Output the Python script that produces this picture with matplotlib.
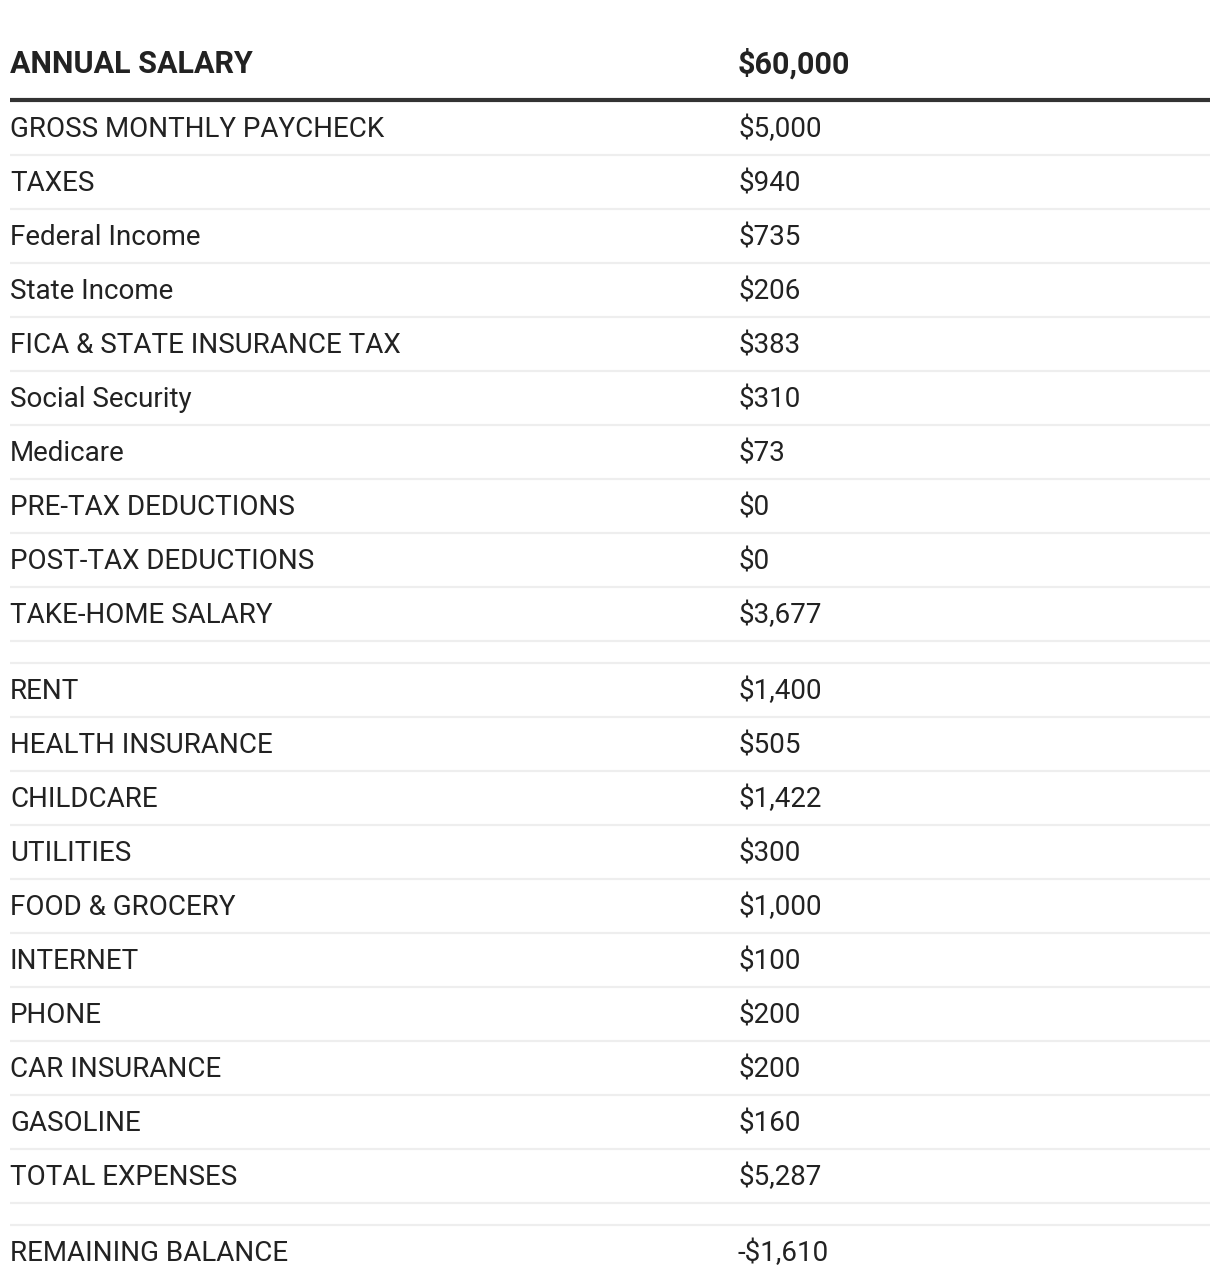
import matplotlib
matplotlib.use("Agg")
import matplotlib.pyplot as plt

header_label = "ANNUAL SALARY"
header_value = 60000

labels = [
    "GROSS MONTHLY PAYCHECK", "TAXES", "Federal Income", "State Income",
    "FICA & STATE INSURANCE TAX", "Social Security", "Medicare",
    "PRE-TAX DEDUCTIONS", "POST-TAX DEDUCTIONS", "TAKE-HOME SALARY",
    "RENT", "HEALTH INSURANCE", "CHILDCARE", "UTILITIES", "FOOD & GROCERY",
    "INTERNET", "PHONE", "CAR INSURANCE", "GASOLINE", "TOTAL EXPENSES",
    "REMAINING BALANCE",
]
values = [5000, 940, 735, 206, 383, 310, 73, 0, 0, 3677,
          1400, 505, 1422, 300, 1000, 100, 200, 200, 160, 5287,
          -1610]
# indices of rows preceded by an empty spacer row
spacer_before = [10, 20]


def fmt(v):
    s = "${:,}".format(abs(v))
    return "-" + s if v < 0 else s


W, H = 1220, 1288
fig = plt.figure(figsize=(W / 100, H / 100), dpi=100)
ax = fig.add_axes([0, 0, 1, 1])
ax.set_xlim(0, W)
ax.set_ylim(H, 0)
ax.axis("off")

font = "Roboto"
txt_color = "#222222"
x_label, x_value = 10, 738
x_line0, x_line1 = 10, 1210
row_h = 54
spacer_h = 22
sep_color = "#eeeeee"


def sep(yy):
    ax.plot([x_line0, x_line1], [yy, yy], color=sep_color, lw=1.6,
            solid_capstyle="butt")


# header
ax.text(x_label, 64, header_label, fontsize=22, fontweight="bold", family=font,
        color=txt_color, va="center", ha="left")
ax.text(x_value, 64, fmt(header_value), fontsize=22, fontweight="bold", family=font,
        color=txt_color, va="center", ha="left")
ax.plot([x_line0, x_line1], [100, 100], color="#333333", lw=3.0, solid_capstyle="butt")

y = 101
for i, (lab, val) in enumerate(zip(labels, values)):
    if i in spacer_before:
        y += spacer_h
        sep(y)
    cy = y + row_h / 2 + 1.5
    ax.text(x_label, cy, lab, fontsize=19.95, family=font, color=txt_color,
            va="center", ha="left")
    ax.text(x_value, cy, fmt(val), fontsize=19.95, family=font, color=txt_color,
            va="center", ha="left")
    y += row_h
    if i < len(labels) - 1:
        sep(y)

fig.savefig("out.png", dpi=100, facecolor="white")
